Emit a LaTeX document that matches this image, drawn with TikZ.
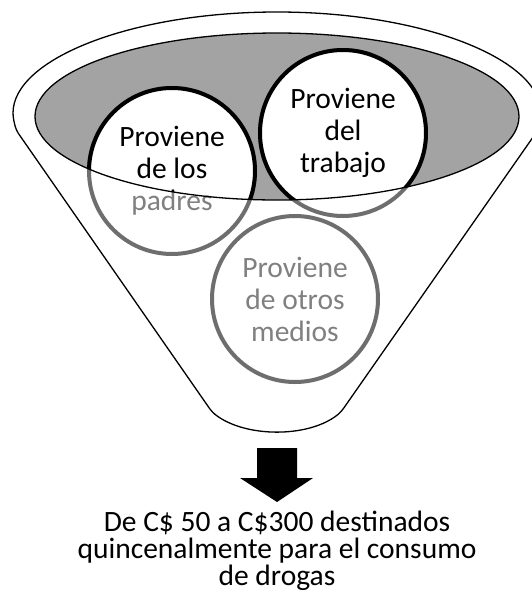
\documentclass[tikz,border=0pt]{standalone}
\usepackage{fontspec}
\setmainfont{Carlito}
\usetikzlibrary{positioning}
\definecolor{grisanillo}{gray}{0.43}
\definecolor{grisfondo}{gray}{0.64}
\definecolor{gristexto}{gray}{0.5}

\begin{document}
\begin{tikzpicture}[
    x=1pt, y=-1pt,
    embudo/.style={draw, line width=1.3pt, fill=white},
    boca/.style={draw, line width=1.3pt},
    circulo/.style={
      circle, minimum size=166pt, inner sep=0pt, line width=4pt,
      fill=white, align=center, font=\fontsize{29.5}{32}\selectfont
    },
    fuera/.style={circulo, draw=grisanillo, text=gristexto},
    dentro/.style={circulo, draw=black, text=black},
    texto/.style={align=center, font=\fontsize{29.5}{27}\selectfont}
  ]
  \useasboundingbox (0,0) rectangle (532,592);
  % cuerpo del embudo
  \begin{scope}
    \clip (0,0) rectangle (532,592);
    \draw[embudo, rounded corners=4pt] (13,117)
      arc[start angle=180, end angle=360, x radius=264, y radius=105]
      -- (538,130) -- (341,412)
      .. controls (309,438) and (245,438) .. (212,412)
      -- (16,130) -- cycle;
  \end{scope}
  \fill[grisfondo] (277,116.5) ellipse[x radius=242, y radius=83.5];
  % fuentes del dinero
  \node[fuera] (padres) at (172,171) {Proviene\\de los\\padres};
  \node[fuera] (trabajo) at (343,133) {Proviene\\del\\trabajo};
  \node[fuera] (otros) at (295,299) {Proviene\\de otros\\medios};
  \begin{scope}
    \clip (277,116.5) ellipse[x radius=242, y radius=83.5];
    \node[dentro] (padres-boca) at (padres) {Proviene\\de los\\padres};
    \node[dentro] (trabajo-boca) at (trabajo) {Proviene\\del\\trabajo};
  \end{scope}
  \draw[boca] (277,116.5) ellipse[x radius=242, y radius=83.5];
  % salida
  \fill (257,448) -- (297,448) -- (297,478) -- (313,478) -- (277,502)
    -- (240,478) -- (257,478) -- cycle;
  \node[texto] (monto) at (277,551)
    {De C\$ 50 a C\$300 destinados\\quincenalmente para el consumo\\de drogas};
\end{tikzpicture}
\end{document}
